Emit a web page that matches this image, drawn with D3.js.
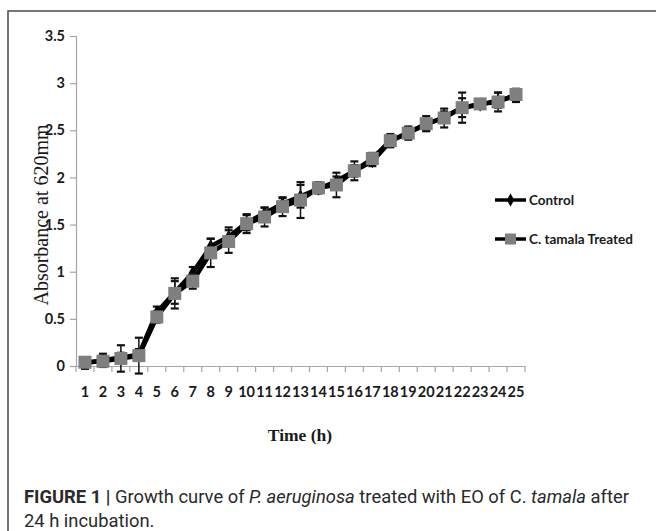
<!DOCTYPE html>
<html>
<head>
<meta charset="utf-8">
<script src="https://cdn.jsdelivr.net/npm/d3@7"></script>
<style>
  html, body { margin: 0; padding: 0; background: #fff; }
  svg { display: block; }
</style>
</head>
<body>
<script>
const hours = ["1","2","3","4","5","6","7","8","9","10","11","12","13","14","15","16","17","18","19","20","21","22","23","24","25"];
const controlValues = [0.03,0.06,0.09,0.12,0.57,0.78,0.99,1.27,1.37,1.52,1.62,1.72,1.80,1.88,1.96,2.07,2.17,2.38,2.48,2.56,2.64,2.74,2.77,2.82,2.86];
const controlErrors = [0.06,0.07,0.05,0.06,0.06,0.12,0.06,0.08,0.10,0.08,0.06,0.06,0.12,0.04,0.05,0.06,0.05,0.05,0.05,0.06,0.06,0.10,0.04,0.08,0.06];
const treatedValues = [0.04,0.05,0.08,0.11,0.52,0.77,0.90,1.20,1.32,1.51,1.58,1.69,1.76,1.89,1.92,2.07,2.20,2.39,2.47,2.57,2.63,2.74,2.78,2.80,2.88];
const treatedErrors = [0.05,0.06,0.14,0.19,0.06,0.16,0.08,0.15,0.12,0.10,0.10,0.10,0.19,0.06,0.13,0.10,0.06,0.07,0.07,0.08,0.10,0.16,0.04,0.10,0.06];
const yTickValues = [0, 0.5, 1, 1.5, 2, 2.5, 3, 3.5];
const yTickLabels = ["0","0.5","1","1.5","2","2.5","3","3.5"];
const seriesNames = ["Control", "C. tamala Treated"];

const W = 656, H = 531;
const svg = d3.select("body").append("svg").attr("width", W).attr("height", H);

// Frame
svg.append("path")
  .attr("d", `M8,${H} L8,11 L${W},11`)
  .attr("fill", "none").attr("stroke", "#4a4a4a").attr("stroke-width", 1.5);

const x = d3.scaleBand().domain(hours).range([76, 525]);
const y = d3.scaleLinear().domain([0, 3.5]).range([366, 36]);
const cx = d => x(d) + x.bandwidth() / 2;

const tickFont = "Lato, 'Open Sans', sans-serif";

// Y axis
const yAxis = svg.append("g").attr("transform", "translate(76,0)")
  .call(d3.axisLeft(y).tickValues(yTickValues).tickSize(6).tickPadding(5)
        .tickFormat((d, i) => yTickLabels[i]));
yAxis.select(".domain").attr("stroke", "#a6a6a6").attr("stroke-width", 1.2);
yAxis.selectAll(".tick line").attr("stroke", "#a6a6a6").attr("stroke-width", 1.2);
yAxis.selectAll(".tick text").attr("font-family", tickFont).attr("font-weight", "bold")
  .attr("font-size", 14.5).attr("fill", "#1a1a1a");

// X axis
const xAxis = svg.append("g").attr("transform", "translate(0,366)")
  .call(d3.axisBottom(x).tickSize(0).tickPadding(21));
xAxis.select(".domain").attr("stroke", "#a6a6a6").attr("stroke-width", 1.2);
xAxis.selectAll(".tick text").attr("font-family", tickFont).attr("font-weight", "bold")
  .attr("font-size", 14.5).attr("fill", "#1a1a1a");
const boundaries = hours.map(d => x(d)).concat([x.range()[1]]);
xAxis.selectAll("line.bnd").data(boundaries).enter().append("line")
  .attr("class", "bnd")
  .attr("x1", d => d).attr("x2", d => d).attr("y1", 0).attr("y2", 6)
  .attr("stroke", "#a6a6a6").attr("stroke-width", 1.2);

// Axis titles
svg.append("text").attr("x", 300).attr("y", 441).attr("text-anchor", "middle")
  .attr("font-family", "'Liberation Serif', 'DejaVu Serif', serif").attr("font-weight", "bold")
  .attr("font-size", 17.5).attr("fill", "#1a1a1a").text("Time (h)");
svg.append("text").attr("transform", "translate(48,215) rotate(-90)").attr("text-anchor", "middle")
  .attr("font-family", "'Liberation Serif', 'DejaVu Serif', serif")
  .attr("font-size", 20).attr("fill", "#1a1a1a").text("Absorbance at 620mm");

const line = d3.line().x((d, i) => cx(hours[i])).y(d => y(d));

function drawErr(vals, errs) {
  const g = svg.append("g").attr("stroke", "#111");
  hours.forEach((h, i) => {
    const px = cx(h), top = y(vals[i] + errs[i]), bot = y(vals[i] - errs[i]);
    g.append("line").attr("x1", px).attr("x2", px).attr("y1", top).attr("y2", bot).attr("stroke-width", 1.5);
    g.append("line").attr("x1", px - 4).attr("x2", px + 4).attr("y1", top).attr("y2", top).attr("stroke-width", 2.2);
    g.append("line").attr("x1", px - 4).attr("x2", px + 4).attr("y1", bot).attr("y2", bot).attr("stroke-width", 2.2);
  });
}

// Control series
svg.append("path").datum(controlValues).attr("d", line)
  .attr("fill", "none").attr("stroke", "#000").attr("stroke-width", 4.5);
drawErr(controlValues, controlErrors);
svg.append("g").selectAll("path").data(controlValues).enter().append("path")
  .attr("d", d3.symbol(d3.symbolDiamond, 55))
  .attr("transform", (d, i) => `translate(${cx(hours[i])},${y(d)})`)
  .attr("fill", "#000");

// Treated series
svg.append("path").datum(treatedValues).attr("d", line)
  .attr("fill", "none").attr("stroke", "#000").attr("stroke-width", 4.5);
drawErr(treatedValues, treatedErrors);
svg.append("g").selectAll("rect").data(treatedValues).enter().append("rect")
  .attr("x", (d, i) => cx(hours[i]) - 6.5).attr("y", d => y(d) - 6.5)
  .attr("width", 13).attr("height", 13)
  .attr("fill", "#7f7f7f");

// Legend
const legend = svg.append("g");
const legY = [200, 239];
seriesNames.forEach((name, i) => {
  legend.append("line").attr("x1", 495).attr("x2", 526).attr("y1", legY[i]).attr("y2", legY[i])
    .attr("stroke", "#000").attr("stroke-width", 3.5);
  if (i === 0) {
    legend.append("path").attr("d", d3.symbol(d3.symbolDiamond, 50))
      .attr("transform", `translate(510.5,${legY[i]})`).attr("fill", "#000");
  } else {
    legend.append("rect").attr("x", 505).attr("y", legY[i] - 5.5).attr("width", 11).attr("height", 11)
      .attr("fill", "#7f7f7f");
  }
  legend.append("text").attr("x", 529).attr("y", legY[i] + 5)
    .attr("font-family", tickFont).attr("font-weight", "bold").attr("font-size", 13.5)
    .attr("fill", "#1a1a1a").text(name);
});

// Caption
const capFont = "'Liberation Sans Narrow', Roboto, 'Liberation Sans', sans-serif";
const cap1 = svg.append("text").attr("x", 24).attr("y", 503)
  .attr("font-family", capFont).attr("font-size", 16).attr("fill", "#2a2a2a");
cap1.append("tspan").attr("font-weight", "bold").text("FIGURE 1 | ");
cap1.append("tspan").text("Growth curve of ");
cap1.append("tspan").attr("font-style", "italic").text("P. aeruginosa");
cap1.append("tspan").text(" treated with EO of C. ");
cap1.append("tspan").attr("font-style", "italic").text("tamala");
cap1.append("tspan").text(" after");
const cap2 = svg.append("text").attr("x", 24).attr("y", 527)
  .attr("font-family", capFont).attr("font-size", 16).attr("fill", "#2a2a2a")
  .text("24 h incubation.");
// scale caption font to target width
const w1 = cap1.node().getComputedTextLength();
const fs = Math.max(12, Math.min(20, 16 * 605 / w1));
cap1.attr("font-size", fs);
cap2.attr("font-size", fs);
</script>
</body>
</html>
